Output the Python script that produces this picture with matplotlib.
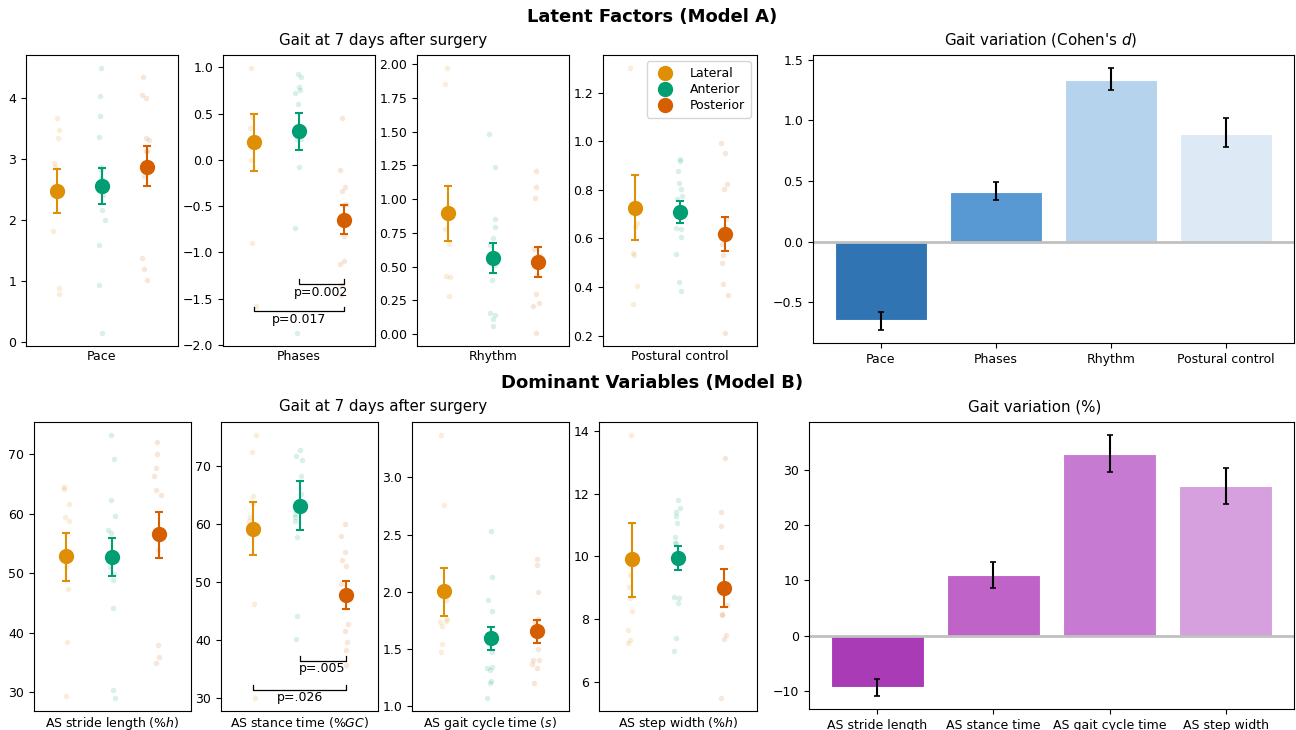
import numpy as np
import matplotlib.pyplot as plt
from matplotlib.lines import Line2D

plt.rcParams['font.size'] = 9

# grupos e cores
groups = ['Lateral', 'Anterior', 'Posterior']
group_colors = ['#DE8F05', '#029E73', '#D55E00']

# ---- Modelo A: fatores latentes ----
labels_A = ['Pace', 'Phases', 'Rhythm', 'Postural control']

pace_pts = [
    [3.67, 3.47, 3.33, 2.93, 2.86, 2.47, 1.82, 0.89, 0.79],
    [4.48, 4.02, 3.69, 3.35, 2.87, 2.82, 2.68, 2.55, 2.41, 2.16, 2.00, 1.59, 0.93, 0.15],
    [4.33, 4.04, 4.00, 3.33, 3.31, 3.12, 3.12, 2.88, 2.72, 1.37, 1.19, 1.02],
]
phases_pts = [
    [0.99, 0.46, 0.34, 0.19, 0.00, -0.90, -1.58],
    [0.93, 0.89, 0.79, 0.75, 0.72, 0.60, 0.31, 0.23, 0.22, -0.08, -0.74, -1.87],
    [0.45, -0.11, -0.29, -0.34, -0.48, -0.49, -0.65, -0.82, -1.09, -1.13, -1.35, -1.46],
]
rhythm_pts = [
    [1.97, 1.85, 0.90, 0.78, 0.67, 0.43, 0.42, 0.28],
    [1.48, 1.24, 0.85, 0.79, 0.71, 0.66, 0.57, 0.51, 0.40, 0.16, 0.14, 0.11, 0.06],
    [1.21, 1.09, 1.01, 0.63, 0.58, 0.53, 0.44, 0.30, 0.23, 0.21, 0.01],
]
postural_pts = [
    [1.30, 0.73, 0.665, 0.647, 0.54, 0.53, 0.406, 0.33],
    [0.925, 0.92, 0.878, 0.826, 0.805, 0.773, 0.764, 0.709, 0.644, 0.64, 0.607, 0.535, 0.422, 0.384],
    [0.994, 0.951, 0.823, 0.805, 0.68, 0.62, 0.576, 0.53, 0.499, 0.411, 0.366, 0.212],
]
means_A = [[2.47, 2.545, 2.87], [0.19, 0.31, -0.65], [0.895, 0.565, 0.533], [0.727, 0.708, 0.619]]
lo_A = [[2.11, 2.25, 2.545], [-0.12, 0.107, -0.80], [0.69, 0.456, 0.42], [0.593, 0.665, 0.549]]
hi_A = [[2.83, 2.84, 3.20], [0.50, 0.51, -0.49], [1.097, 0.678, 0.646], [0.859, 0.752, 0.69]]

cohen_d = [-0.644, 0.406, 1.335, 0.891]
cohen_lo = [-0.727, 0.34, 1.253, 0.776]
cohen_hi = [-0.58, 0.488, 1.43, 1.015]
bar_colors_A = ['#3074b4', '#5899d4', '#b5d3ec', '#ddeaf6']

# ---- Modelo B: variáveis dominantes ----
labels_B = ['AS stride length (%$h$)', 'AS stance time (%$GC$)',
            'AS gait cycle time ($s$)', 'AS step width (%$h$)']
bar_labels_B = ['AS stride length', 'AS stance time', 'AS gait cycle time', 'AS step width']

stride_pts = [
    [64.5, 64.2, 61.6, 59.4, 58.8, 52.8, 51.0, 47.3, 38.4, 29.4],
    [73.2, 69.2, 62.3, 59.6, 57.2, 56.7, 53.5, 52.7, 51.0, 49.9, 48.9, 44.2, 30.4, 29.05],
    [72.0, 70.0, 67.65, 66.26, 64.0, 63.1, 57.2, 56.6, 55.5, 53.9, 38.0, 35.9, 34.9],
]
stance_pts = [
    [75.4, 72.5, 64.9, 63.7, 61.2, 60.6, 59.3, 46.2, 30.1],
    [72.9, 71.8, 71.1, 68.4, 65.3, 64.1, 63.2, 61.8, 61.2, 60.6, 57.9, 44.3, 40.2],
    [60.0, 58.0, 55.2, 53.8, 52.8, 49.8, 47.8, 42.8, 41.6, 39.8, 38.4, 35.7],
]
cycle_pts = [
    [3.37, 2.76, 2.00, 1.93, 1.76, 1.74, 1.73, 1.70, 1.54, 1.47],
    [2.53, 2.13, 1.93, 1.83, 1.63, 1.59, 1.47, 1.34, 1.33, 1.31, 1.22, 1.20, 1.07],
    [2.29, 2.23, 2.00, 1.76, 1.74, 1.65, 1.50, 1.40, 1.40, 1.37, 1.33, 1.20],
]
width_pts = [
    [13.88, 9.9, 9.42, 9.04, 8.66, 8.26, 7.64, 7.32, 7.24],
    [11.81, 11.55, 11.43, 11.29, 11.06, 10.61, 10.44, 10.42, 9.95, 8.71, 8.68, 8.50, 7.40, 6.99],
    [13.15, 11.43, 10.98, 10.29, 8.98, 8.44, 8.17, 8.13, 7.50, 7.35, 5.48],
]
means_B = [[52.85, 52.74, 56.54], [59.27, 63.2, 47.83], [2.003, 1.593, 1.654], [9.907, 9.95, 8.985]]
lo_B = [[48.66, 49.6, 52.6], [54.7, 59.0, 45.5], [1.785, 1.49, 1.55], [8.72, 9.56, 8.37]]
hi_B = [[56.8, 55.9, 60.3], [63.84, 67.5, 50.2], [2.21, 1.69, 1.756], [11.08, 10.34, 9.6]]

pct_var = [-9.2, 10.9, 32.8, 27.0]
pct_lo = [-10.9, 8.66, 29.6, 23.9]
pct_hi = [-7.8, 13.3, 36.3, 30.3]
bar_colors_B = ['#a93bb7', '#bf63c8', '#c77ad2', '#d69fdd']

# comparações significativas: (painel, grupo1, grupo2, nível da chave, texto)
sig_A = [(1, 1, 2, -1.344, 'p=0.002'), (1, 0, 2, -1.64, 'p=0.017')]
sig_B = [(1, 1, 2, 36.5, 'p=.005'), (1, 0, 2, 31.47, 'p=.026')]

W, H = 1296, 730


def px_axes(fig, x0, y0, x1, y1):
    # coordenadas em pixels (origem no canto superior esquerdo)
    return fig.add_axes([x0 / W, 1 - y1 / H, (x1 - x0) / W, (y1 - y0) / H])


def points_panel(ax, pts, means, lo, hi, xlabel, rng):
    for g in range(3):
        y = np.array(pts[g])
        x = g + rng.uniform(-0.1, 0.06, len(y))
        ax.scatter(x, y, s=16, color=group_colors[g], alpha=0.15, lw=0, zorder=1)
    for g in range(3):
        err = [[means[g] - lo[g]], [hi[g] - means[g]]]
        ax.errorbar([g], [means[g]], yerr=err, fmt='o', color=group_colors[g],
                    ms=10, capsize=3, elinewidth=1.5, capthick=1.5, zorder=3)
    ax.set_xlim(-0.7, 2.7)
    ax.set_xticks([])
    ax.set_xlabel(xlabel, labelpad=3)


def add_brackets(ax, sigs, idx):
    y0, y1 = ax.get_ylim()
    tick = 0.016 * (y1 - y0)
    for p, g1, g2, yb, txt in sigs:
        if p != idx:
            continue
        ax.plot([g1, g1, g2, g2], [yb + tick, yb, yb, yb + tick], color='black', lw=0.9)
        ax.annotate(txt, xy=((g1 + g2) / 2, yb), xytext=(0, -1), textcoords='offset points',
                    ha='center', va='top', fontsize=9)
    ax.set_ylim(y0, y1)


def bar_panel(ax, vals, lo, hi, labels, colors):
    x = np.arange(len(vals))
    err = [np.array(vals) - np.array(lo), np.array(hi) - np.array(vals)]
    ax.bar(x, vals, width=0.8, color=colors, edgecolor='white', linewidth=0.8,
           yerr=err, capsize=2, error_kw=dict(ecolor='black', elinewidth=1.5, capthick=1.2, zorder=4))
    ax.axhline(0, color='#c0c0c0', lw=2, zorder=2.5)
    ax.set_xticks(x)
    ax.set_xticklabels(labels)


def main():
    fig = plt.figure(figsize=(W / 100, H / 100), dpi=100)
    rng = np.random.default_rng(7)

    # linha de cima
    top_boxes = [(26, 55, 178, 346), (223, 55, 375, 346), (417, 55, 569, 346), (603, 55, 757, 346)]
    data_A = [pace_pts, phases_pts, rhythm_pts, postural_pts]
    for i, b in enumerate(top_boxes):
        ax = px_axes(fig, *b)
        points_panel(ax, data_A[i], means_A[i], lo_A[i], hi_A[i], labels_A[i], rng)
        add_brackets(ax, sig_A, i)
        if i == 3:
            handles = [Line2D([], [], marker='o', ls='', ms=10, color=c) for c in group_colors]
            ax.legend(handles, groups, loc='upper right', handletextpad=1.0,
                      borderpad=0.45, labelspacing=0.25, handlelength=2.0)
    axA = px_axes(fig, 813, 55, 1294, 343)
    bar_panel(axA, cohen_d, cohen_lo, cohen_hi, labels_A, bar_colors_A)

    # linha de baixo
    bot_boxes = [(34, 422, 191, 711), (221, 422, 378, 711), (412, 422, 569, 711), (599, 422, 757, 711)]
    data_B = [stride_pts, stance_pts, cycle_pts, width_pts]
    for i, b in enumerate(bot_boxes):
        ax = px_axes(fig, *b)
        points_panel(ax, data_B[i], means_B[i], lo_B[i], hi_B[i], labels_B[i], rng)
        add_brackets(ax, sig_B, i)
    axB = px_axes(fig, 809, 422, 1294, 709)
    bar_panel(axB, pct_var, pct_lo, pct_hi, bar_labels_B, bar_colors_B)

    # títulos
    fig.text(652 / W, 1 - 17 / H, 'Latent Factors (Model A)', ha='center', va='center',
             fontsize=12.96, fontweight='bold')
    fig.text(652 / W, 1 - 383 / H, 'Dominant Variables (Model B)', ha='center', va='center',
             fontsize=12.96, fontweight='bold')
    fig.text(383 / W, 1 - 40 / H, 'Gait at 7 days after surgery', ha='center', va='center', fontsize=10.8)
    fig.text(383 / W, 1 - 407 / H, 'Gait at 7 days after surgery', ha='center', va='center', fontsize=10.8)
    fig.text(1041 / W, 1 - 40 / H, "Gait variation (Cohen's $d$)", ha='center', va='center', fontsize=10.8)
    fig.text(1035 / W, 1 - 407 / H, 'Gait variation (%)', ha='center', va='center', fontsize=10.8)

    fig.savefig('out.png', dpi=100)


if __name__ == "__main__":
    main()
